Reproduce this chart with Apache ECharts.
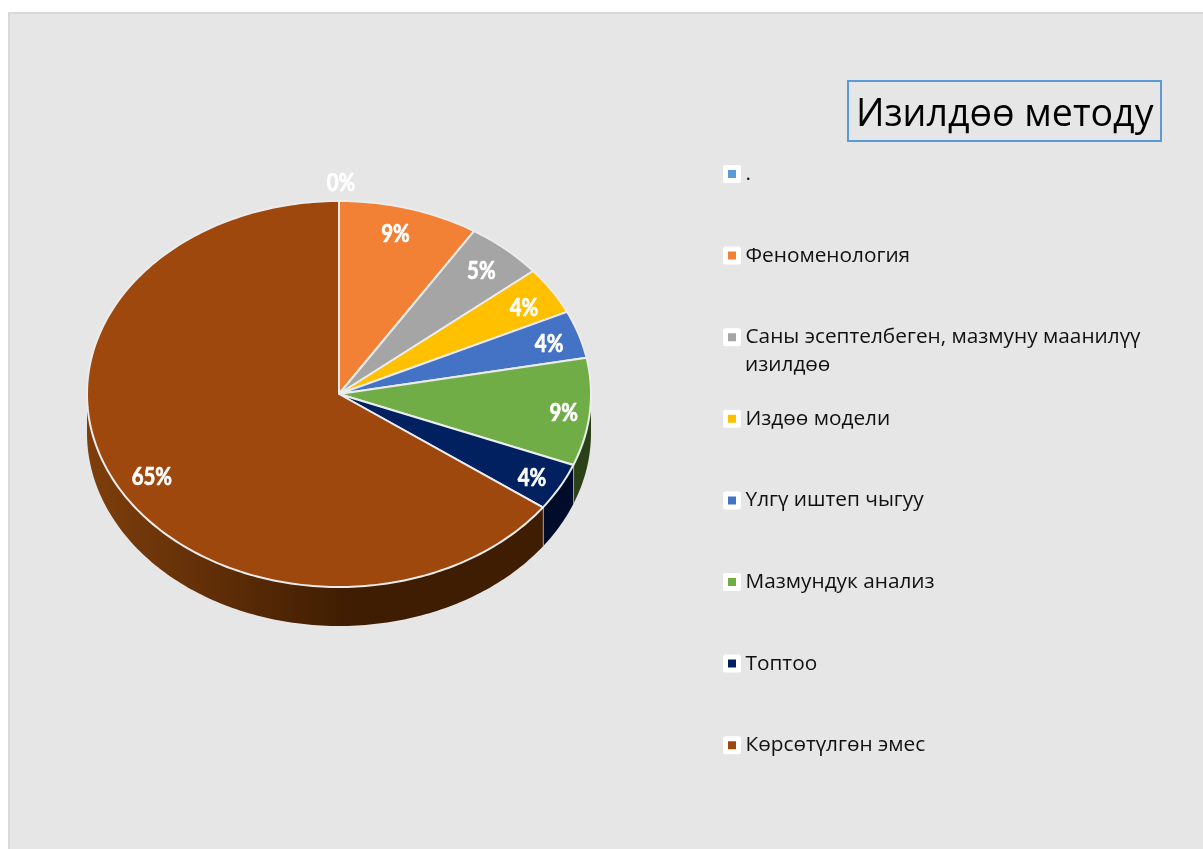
<!DOCTYPE html>
<html>
<head>
<meta charset="utf-8">
<script src="https://cdn.jsdelivr.net/npm/echarts@6/dist/echarts.min.js"></script>
<style>
  html, body { margin: 0; padding: 0; background: #fff; }
  #chart { width: 1203px; height: 849px; }
</style>
</head>
<body>
<div id="chart"></div>
<script>
const categories = ['.', 'Феноменология', 'Саны эсептелбеген, мазмуну маанилүү', 'Издөө модели', 'Үлгү иштеп чыгуу', 'Мазмундук анализ', 'Топтоо', 'Көрсөтүлгөн эмес']
const values = [0, 9, 5, 4, 4, 9, 4, 65]
const colors = ['#5b9bd5', '#f38135', '#a5a5a5', '#ffc000', '#4472c4', '#70ad47', '#002060', '#9e480e']
const wallColors = ['#2e5a82', '#8a4a1c', '#5e5e5e', '#8a6800', '#233c6c', '#2a4118', '#000c2a', null]
// small nudges for the percent labels, excel places them "best fit"
const labelNudge = [[2, -45], [-4, 0], [-1, 2], [2, 3], [4, 2], [9, 4], [3, 4], [6, 8]]

const fontFamily = '"Open Sans", "Noto Sans", sans-serif'
const labelFont = 'bold 24px Lato, "Open Sans", sans-serif'
const cx = 339
const cy = 394
const rx = 252
const ry = 193
const depth = 39
const total = values.reduce((a, b) => a + b, 0)

function ellipsePoint(deg, dy) {
  const r = deg * Math.PI / 180
  return [cx + rx * Math.sin(r), cy - ry * Math.cos(r) + (dy || 0)]
}

function arcPoints(from, to, dy) {
  const pts = []
  const steps = Math.max(2, Math.ceil(Math.abs(to - from)))
  for (let i = 0; i <= steps; i++) {
    pts.push(ellipsePoint(from + (to - from) * i / steps, dy))
  }
  return pts
}

function wallFill(index) {
  if (wallColors[index]) return wallColors[index]
  return new echarts.graphic.LinearGradient(87, 0, 350, 0, [
    { offset: 0, color: '#7e3e0c' },
    { offset: 1, color: '#3f1d02' }
  ], true)
}

function renderSlice(index) {
  return function (params, api) {
    const value = api.value(0)
    const start = values.slice(0, index).reduce((a, b) => a + b, 0) / total * 360
    const end = start + value / total * 360
    const children = []

    // side wall, only the part of the rim facing the viewer
    const wallFrom = Math.max(start, 90)
    const wallTo = Math.min(end, 270)
    if (wallTo > wallFrom) {
      const top = arcPoints(wallFrom, wallTo, 0)
      const bottom = arcPoints(wallFrom, wallTo, depth).reverse()
      children.push({
        type: 'polygon',
        shape: { points: top.concat(bottom) },
        style: { fill: wallFill(index) }
      })
      if (wallTo < 270) {
        const p = ellipsePoint(wallTo, 0)
        children.push({
          type: 'line',
          shape: { x1: p[0], y1: p[1], x2: p[0], y2: p[1] + depth },
          style: { stroke: '#d9d9d9', lineWidth: 1.5 }
        })
      }
    }

    // top face
    children.push({
      type: 'polygon',
      shape: { points: [[cx, cy]].concat(arcPoints(start, end, 0)) },
      style: { fill: colors[index], stroke: '#ececec', lineWidth: 2, lineJoin: 'round' },
      z2: 5
    })

    const mid = (start + end) / 2 * Math.PI / 180
    const nudge = labelNudge[index]
    children.push({
      type: 'text',
      x: cx + rx * 0.86 * Math.sin(mid) + nudge[0],
      y: cy - ry * 0.86 * Math.cos(mid) + nudge[1],
      scaleX: 0.85,
      style: {
        x: 0,
        y: 0,
        text: value + '%',
        fill: '#fff',
        stroke: '#fff',
        lineWidth: 0.7,
        font: labelFont,
        align: 'center',
        verticalAlign: 'middle'
      },
      z2: 10
    })
    return { type: 'group', children }
  }
}

const chart = echarts.init(document.getElementById('chart'))
chart.setOption({
  animation: false,
  backgroundColor: '#fff',
  title: {
    text: 'Изилдөө методу',
    left: 848,
    top: 81,
    padding: [12, 8, 4, 8],
    borderColor: '#5b9bd5',
    borderWidth: 2,
    textStyle: { color: '#000', fontSize: 37.5, fontWeight: 'normal', fontFamily, lineHeight: 44 }
  },
  legend: {
    orient: 'vertical',
    left: 723,
    top: 162,
    padding: 0,
    itemWidth: 13,
    itemHeight: 13,
    itemGap: 57.6,
    selectedMode: false,
    icon: 'rect',
    itemStyle: { borderColor: '#fff', borderWidth: 5, borderJoin: 'round' },
    textStyle: { color: '#111', fontSize: 20.8, fontFamily, lineHeight: 24, padding: [0, 0, 0, 2] },
    data: categories
  },
  graphic: [
    {
      type: 'rect',
      z: -10,
      shape: { x: 9, y: 13, width: 1300, height: 900 },
      style: { fill: '#e6e6e6', stroke: '#d9d9d9', lineWidth: 2 }
    },
    {
      type: 'text',
      left: 745,
      top: 355,
      style: { text: 'изилдөө', fill: '#111', font: '20.8px ' + fontFamily }
    }
  ],
  series: categories.map((name, i) => ({
    type: 'custom',
    name,
    coordinateSystem: 'none',
    itemStyle: { color: colors[i] },
    renderItem: renderSlice(i),
    data: [[values[i]]]
  }))
})

window.addEventListener('resize', () => chart.resize())
</script>
</body>
</html>
